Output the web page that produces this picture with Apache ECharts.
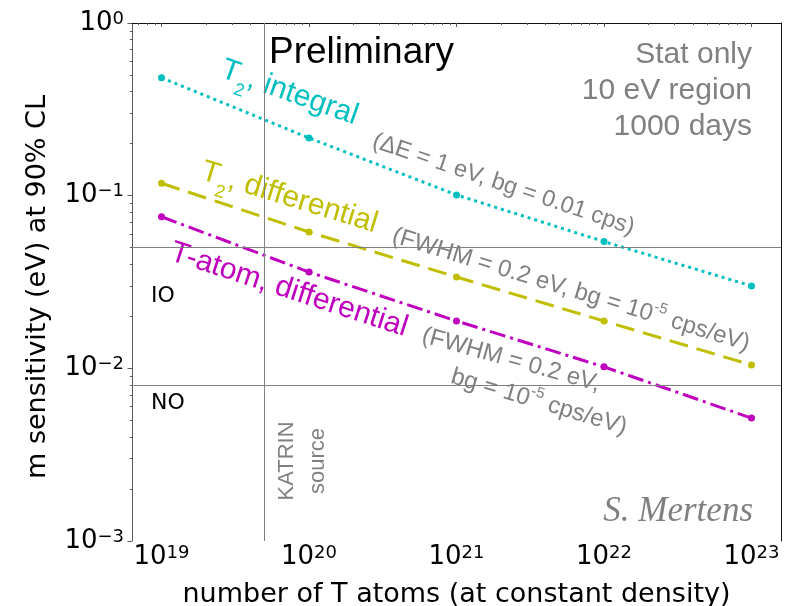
<!DOCTYPE html>
<html><head><meta charset="utf-8">
<script src="https://cdn.jsdelivr.net/npm/echarts@6/dist/echarts.min.js"></script>
<style>html,body{margin:0;padding:0;background:#fff}#c{width:800px;height:606px}</style>
</head><body><div id="c"></div>
<script>
// ---- data ----
const atoms = [1e19, 1e20, 1e21, 1e22, 1e23];
const t2Integral = [0.482, 0.216, 0.101, 0.0542, 0.030];
const t2Differential = [0.118, 0.0616, 0.0338, 0.0188, 0.01045];
const tAtomDifferential = [0.0755, 0.0361, 0.0188, 0.0102, 0.00515];
const xMajorExponents = [19, 20, 21, 22, 23];
const yMajorExponents = [-3, -2, -1, 0];
const ioLimit = 0.05;
const noLimit = 0.008;
const katrinAtoms = 5e19;
const xExpRange = [18.8, 23.2];
const yExpRange = [-3, 0];

// ---- helpers ----
const L = Math.log10;
function pts(vals) { return atoms.map((a, i) => [L(a), L(vals[i])]); }
function minors(lo, hi) {
  const out = [];
  for (let n = Math.floor(lo) - 1; n <= Math.ceil(hi); n++)
    for (let k = 2; k <= 9; k++) { const v = n + L(k); if (v >= lo && v <= hi) out.push(v); }
  return out;
}
const xMinor = minors(xExpRange[0], xExpRange[1]);
const yMinor = minors(yExpRange[0], yExpRange[1]);
function powLabel(v) {
  const e = Math.round(v);
  return '{b|10}{s|' + (e < 0 ? '\u2212' + (-e) : e) + '}';
}
const labelRich = {
  b: { fontSize: 26, lineHeight: 26, fontFamily: 'DejaVu Sans', color: '#000', padding: [5, 0, 5, 0] },
  s: { fontSize: 18, lineHeight: 18, fontFamily: 'DejaVu Sans', color: '#000', verticalAlign: 'top' }
};
const spineGray = '#5a5a5a';
const SANS = 'Liberation Sans';
const GRAY = '#808080';
const CYAN = '#00BFBF', OLIVE = '#BFBF00', MAGENTA = '#BF00BF';
const deg = d => -d * Math.PI / 180;
function subRich(color) {
  return {
    a: { fontSize: 30, lineHeight: 30, fontFamily: SANS, fill: color, padding: [0, 0, 9, 0] },
    b: { fontSize: 18, lineHeight: 18, fontFamily: SANS, fill: color, padding: [21, 0, 0, 0] }
  };
}
function supRich() {
  return {
    g: { fontSize: 24, lineHeight: 24, fontFamily: SANS, fill: GRAY, padding: [4, 0, 4, 0] },
    s: { fontSize: 15, lineHeight: 15, fontFamily: SANS, fill: GRAY, padding: [0, 0, 17, 0] }
  };
}

const chart = echarts.init(document.getElementById('c'), null, { renderer: 'canvas' });
const option = {
  animation: false,
  backgroundColor: '#fff',
  grid: { left: 132, right: 19, top: 23, bottom: 65, containLabel: false, outerBoundsMode: 'none' },
  xAxis: [
    {
      type: 'value', min: xExpRange[0], max: xExpRange[1], position: 'bottom',
      axisLine: { show: true, lineStyle: { color: spineGray, width: 1 } },
      axisTick: { show: true, customValues: xMajorExponents, length: 4, lineStyle: { color: spineGray } },
      axisLabel: { customValues: xMajorExponents, formatter: powLabel, rich: labelRich, margin: 3 },
      splitLine: { show: false },
      name: 'number of T atoms (at constant density)', nameLocation: 'middle', nameGap: 34,
      nameTextStyle: { fontSize: 27, lineHeight: 30, fontFamily: 'DejaVu Sans', color: '#000' }
    },
    {
      type: 'value', min: xExpRange[0], max: xExpRange[1], position: 'bottom',
      axisLine: { show: false },
      axisTick: { show: true, customValues: xMinor, length: 2, lineStyle: { color: spineGray } },
      axisLabel: { show: false }, splitLine: { show: false }
    },
    {
      type: 'value', min: xExpRange[0], max: xExpRange[1], position: 'top',
      axisLine: { show: true, lineStyle: { color: '#111', width: 1 } },
      axisTick: { show: false }, axisLabel: { show: false }, splitLine: { show: false }
    }
  ],
  yAxis: [
    {
      type: 'value', min: yExpRange[0], max: yExpRange[1], position: 'left',
      axisLine: { show: true, lineStyle: { color: spineGray, width: 1 } },
      axisTick: { show: true, customValues: yMajorExponents, length: 4.5, lineStyle: { color: spineGray } },
      axisLabel: { customValues: yMajorExponents, formatter: powLabel, rich: labelRich, margin: 8 },
      splitLine: { show: false },
      name: 'm sensitivity (eV) at 90% CL', nameLocation: 'middle', nameGap: 77,
      nameTextStyle: { fontSize: 27, lineHeight: 30, fontFamily: 'DejaVu Sans', color: '#000', padding: [0, 10, 0, 0] }
    },
    {
      type: 'value', min: yExpRange[0], max: yExpRange[1], position: 'left',
      axisLine: { show: false },
      axisTick: { show: true, customValues: yMinor, length: 2.2, lineStyle: { color: spineGray } },
      axisLabel: { show: false }, splitLine: { show: false }
    },
    {
      type: 'value', min: yExpRange[0], max: yExpRange[1], position: 'right',
      axisLine: { show: true, lineStyle: { color: '#111', width: 1 } },
      axisTick: { show: false }, axisLabel: { show: false }, splitLine: { show: false }
    }
  ],
  series: [
    {
      type: 'line', data: [], z: 1, silent: true,
      markLine: {
        silent: true, symbol: 'none', label: { show: false },
        lineStyle: { color: GRAY, width: 1, type: 'solid' },
        data: [{ xAxis: L(katrinAtoms) }, { yAxis: L(ioLimit) }, { yAxis: L(noLimit) }]
      }
    },
    {
      name: 'T2, integral', type: 'line', data: pts(t2Integral), z: 3,
      symbol: 'circle', symbolSize: 7, itemStyle: { color: CYAN },
      lineStyle: { color: CYAN, width: 3, type: [3, 4] }
    },
    {
      name: 'T2, differential', type: 'line', data: pts(t2Differential), z: 3,
      symbol: 'circle', symbolSize: 7, itemStyle: { color: OLIVE },
      lineStyle: { color: OLIVE, width: 3, type: [19, 9] }
    },
    {
      name: 'T-atom, differential', type: 'line', data: pts(tAtomDifferential), z: 3,
      symbol: 'circle', symbolSize: 7, itemStyle: { color: MAGENTA },
      lineStyle: { color: MAGENTA, width: 3, type: [16, 5, 3, 5] }
    }
  ],
  graphic: [
    { type: 'text', x: 269, y: 53, style: { text: 'Preliminary', fill: '#000', fontSize: 37, fontFamily: SANS, align: 'left', verticalAlign: 'middle' } },
    { type: 'text', x: 752, y: 36.5, style: { text: 'Stat only\n10 eV region\n1000 days', fill: GRAY, fontSize: 30, lineHeight: 36, fontFamily: SANS, align: 'right', verticalAlign: 'top' } },
    { type: 'text', x: 753, y: 512, style: { text: 'S. Mertens', fill: GRAY, fontSize: 35, fontStyle: 'italic', fontFamily: 'Liberation Serif', align: 'right', verticalAlign: 'middle' } },
    { type: 'text', x: 151, y: 296, style: { text: 'IO', fill: '#000', fontSize: 22, fontFamily: 'DejaVu Sans', align: 'left', verticalAlign: 'middle' } },
    { type: 'text', x: 151, y: 403, style: { text: 'NO', fill: '#000', fontSize: 22, fontFamily: 'DejaVu Sans', align: 'left', verticalAlign: 'middle' } },
    { type: 'text', x: 287, y: 461, rotation: Math.PI / 2, style: { text: 'KATRIN', fill: GRAY, fontSize: 22, fontFamily: SANS, align: 'center', verticalAlign: 'middle' } },
    { type: 'text', x: 318, y: 461, rotation: Math.PI / 2, style: { text: 'source', fill: GRAY, fontSize: 22, fontFamily: SANS, align: 'center', verticalAlign: 'middle' } },
    { type: 'text', x: 288, y: 97, rotation: deg(19.5), style: {
        text: '{a|T}{b|2}{a|, integral}', align: 'center', verticalAlign: 'middle', rich: subRich(CYAN) } },
    { type: 'text', x: 288, y: 202, rotation: deg(17), style: {
        text: '{a|T}{b|2}{a|, differential}', align: 'center', verticalAlign: 'middle', rich: subRich(OLIVE) } },
    { type: 'text', x: 289, y: 290, rotation: deg(18), style: { text: 'T-atom, differential', fill: MAGENTA, fontSize: 30, fontFamily: SANS, align: 'center', verticalAlign: 'middle' } },
    { type: 'text', x: 503.5, y: 184.5, rotation: deg(18.6), style: { text: '(\u0394E = 1 eV, bg = 0.01 cps)', fill: GRAY, fontSize: 23.5, fontFamily: SANS, align: 'center', verticalAlign: 'middle' } },
    { type: 'text', x: 571, y: 290, rotation: deg(17), style: {
        text: '{g|(FWHM = 0.2 eV, bg = 10}{s|-5}{g| cps/eV)}', align: 'center', verticalAlign: 'middle', rich: supRich() } },
    { type: 'text', x: 511, y: 360, rotation: deg(15.5), style: { text: '(FWHM = 0.2 eV,', fill: GRAY, fontSize: 24, fontFamily: SANS, align: 'center', verticalAlign: 'middle' } },
    { type: 'text', x: 539, y: 402, rotation: deg(16.5), style: {
        text: '{g|bg = 10}{s|-5}{g| cps/eV)}', align: 'center', verticalAlign: 'middle', rich: supRich() } }
  ]
};
chart.setOption(option);
</script>
</body></html>
